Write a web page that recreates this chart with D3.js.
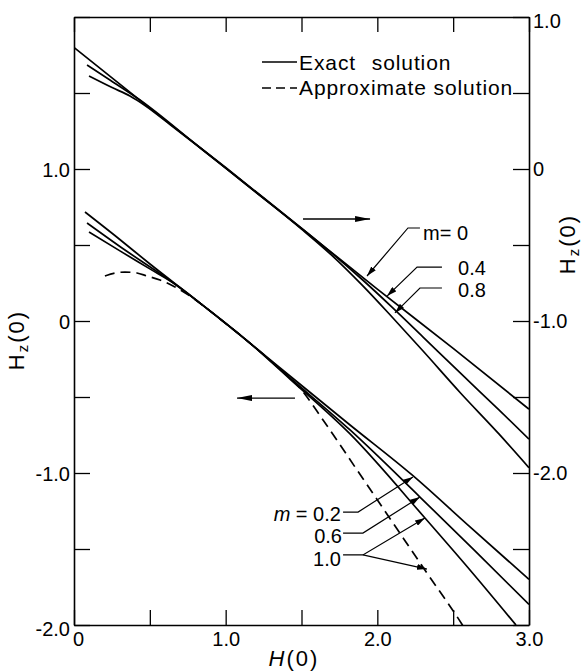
<!DOCTYPE html>
<html>
<head>
<meta charset="utf-8">
<script src="https://cdn.jsdelivr.net/npm/d3@7"></script>
<style>
body { margin: 0; background: #fff; }
svg text { font-family: "Liberation Sans", Arial, sans-serif; fill: #000; }
</style>
</head>
<body>
<svg id="chart" width="584" height="671"></svg>
<script>
// upper family (right axis), H(0) vs Hz(0)
const upperM0  = [[0,0.80],[0.5,0.40],[1.0,0.01],[1.5,-0.39],[2.0,-0.79],[2.5,-1.18],[3.0,-1.58]];
const upperM04 = [[0.086,0.684],[0.237,0.586],[0.435,0.454],[0.831,0.140],[1.0,0.006],[1.2,-0.153],[1.5,-0.391],[1.7,-0.554],[1.9,-0.727],[2.1,-0.912],[2.3,-1.104],[2.55,-1.345],[2.8,-1.583],[3.0,-1.777]];
const upperM08 = [[0.099,0.612],[0.251,0.536],[0.369,0.480],[0.468,0.418],[0.633,0.293],[0.831,0.140],[1.0,0.006],[1.2,-0.153],[1.5,-0.395],[1.7,-0.568],[1.9,-0.764],[2.1,-0.977],[2.3,-1.196],[2.55,-1.475],[2.8,-1.741],[3.0,-1.965]];

// lower family (left axis)
const lowerM02 = [[0.0725,0.717],[0.30,0.538],[0.501,0.375],[0.831,0.118],[1.160,-0.145],[1.424,-0.362],[1.820,-0.684],[2.229,-1.013],[2.611,-1.355],[3.0,-1.70]];
const lowerM06 = [[0.086,0.645],[0.336,0.467],[0.600,0.289],[0.831,0.118],[1.160,-0.145],[1.424,-0.375],[1.820,-0.717],[2.281,-1.158],[2.644,-1.513],[3.0,-1.865]];
const lowerM10 = [[0.099,0.586],[0.30,0.463],[0.50,0.343],[0.666,0.243],[0.831,0.118],[1.160,-0.145],[1.424,-0.382],[1.820,-0.743],[2.314,-1.296],[2.611,-1.638],[2.914,-2.0]];
const approx   = [[0.204,0.296],[0.270,0.316],[0.336,0.322],[0.415,0.316],[0.481,0.296],[0.567,0.270],[0.666,0.224],[0.765,0.164],[0.963,0.013],[1.160,-0.145],[1.358,-0.316],[1.490,-0.441],[1.642,-0.651],[1.866,-0.980],[2.083,-1.299],[2.327,-1.658],[2.558,-1.995],[2.58,-2.03]];

// ticks
const xTicks = [0,0.5,1,1.5,2,2.5,3];
const xLabelValues = [0,1,2,3];
const xLabels = ["0","1.0","2.0","3.0"];
const yLeftTicks = [-2,-1.5,-1,-0.5,0,0.5,1,1.5,2];
const yLeftLabelValues = [-2,-1,0,1];
const yLeftLabels = ["-2.0","-1.0","0","1.0"];
const yRightTicks = [-3,-2.5,-2,-1.5,-1,-0.5,0,0.5,1];
const yRightLabelValues = [-2,-1,0,1];
const yRightLabels = ["-2.0","-1.0","0","1.0"];

// annotation anchors, in (H, left-axis) units
const upperLabels = [{t:"m= 0", p:[2.301,0.533], lead:[[2.281,0.612],[2.202,0.612],[1.932,0.296]]},
                     {t:"0.4",  p:[2.532,0.303], lead:[[2.426,0.355],[2.262,0.355],[2.064,0.164]]},
                     {t:"0.8",  p:[2.532,0.158], lead:[[2.426,0.217],[2.281,0.217],[2.116,0.053]]}];
const lowerLabels = [{m:true, t:" = 0.2", p:[1.760,-1.316], lead:[[1.774,-1.257],[1.873,-1.257],[2.235,-1.026]]},
                     {t:"0.6", p:[1.767,-1.461], lead:[[1.774,-1.395],[1.905,-1.395],[2.281,-1.158]]},
                     {t:"1.0", p:[1.760,-1.612], lead:[[1.774,-1.539],[1.905,-1.539],[2.314,-1.296]]}];
const extraLead = [[1.905,-1.539],[2.327,-1.632]];
const arrowRight = [[1.510,0.671],[1.952,0.671]];
const arrowLeft = [[1.457,-0.507],[1.075,-0.507]];

const svg = d3.select("#chart");
const plotLeft = 74, plotTop = 17, plotRight = 529, plotBottom = 625;

const x = d3.scaleLinear().domain([0, 3]).range([plotLeft, plotRight]);
const yL = d3.scaleLinear().domain([-2, 2]).range([plotBottom, plotTop]);
const yR = d3.scaleLinear().domain([-3, 1]).range([plotBottom, plotTop]);

function fmt(values, labels) {
    return function(d) {
        var i = values.indexOf(d);
        return i < 0 ? "" : labels[i];
    };
}

const defs = svg.append("defs");
defs.append("clipPath").attr("id", "plot")
    .append("rect").attr("x", plotLeft).attr("y", plotTop)
    .attr("width", plotRight - plotLeft).attr("height", plotBottom - plotTop);
defs.append("marker").attr("id", "head")
    .attr("viewBox", "0 0 10 6").attr("refX", 10).attr("refY", 3)
    .attr("markerWidth", 10).attr("markerHeight", 6)
    .attr("markerUnits", "userSpaceOnUse").attr("orient", "auto")
    .append("path").attr("d", "M0,0L10,3L0,6Z");
defs.append("marker").attr("id", "longhead")
    .attr("viewBox", "0 0 15 6").attr("refX", 15).attr("refY", 3)
    .attr("markerWidth", 15).attr("markerHeight", 6)
    .attr("markerUnits", "userSpaceOnUse").attr("orient", "auto")
    .append("path").attr("d", "M0,0L15,3L0,6Z");

// axes
function styleAxis(g) {
    g.attr("font-size", 20).attr("font-family", "Liberation Sans, Arial, sans-serif");
    g.selectAll("line").attr("stroke", "#000").attr("stroke-width", 1.3);
    g.select(".domain").attr("stroke", "#000").attr("stroke-width", 1.6);
}
svg.append("g").attr("transform", `translate(0,${plotBottom})`)
    .call(d3.axisBottom(x).tickValues(xTicks).tickSizeInner(-15).tickSizeOuter(0).tickPadding(7)
        .tickFormat(fmt(xLabelValues, xLabels)))
    .call(styleAxis)
    .selectAll(".tick text").attr("dx", d => d === 0 ? 4 : 0);
svg.append("g").attr("transform", `translate(0,${plotTop})`)
    .call(d3.axisTop(x).tickValues(xTicks).tickSizeInner(-15).tickSizeOuter(0).tickFormat(""))
    .call(styleAxis);
svg.append("g").attr("transform", `translate(${plotLeft},0)`)
    .call(d3.axisLeft(yL).tickValues(yLeftTicks).tickSizeInner(-16).tickSizeOuter(0).tickPadding(4)
        .tickFormat(fmt(yLeftLabelValues, yLeftLabels)))
    .call(styleAxis)
    .selectAll(".tick text").attr("dy", d => d === -2 ? "0.5em" : "0.38em");
svg.append("g").attr("transform", `translate(${plotRight},0)`)
    .call(d3.axisRight(yR).tickValues(yRightTicks).tickSizeInner(-16).tickSizeOuter(0).tickPadding(4)
        .tickFormat(fmt(yRightLabelValues, yRightLabels)))
    .call(styleAxis)
    .selectAll(".tick text").attr("dy", d => d === 1 ? "0.5em" : "0.32em");

// curves
const plot = svg.append("g").attr("clip-path", "url(#plot)");
const lineR = d3.line().x(d => x(d[0])).y(d => yR(d[1])).curve(d3.curveMonotoneX);
const lineL = d3.line().x(d => x(d[0])).y(d => yL(d[1])).curve(d3.curveMonotoneX);

[upperM0, upperM04, upperM08].forEach(function(s) {
    plot.append("path").attr("d", lineR(s)).attr("fill", "none").attr("stroke", "#000").attr("stroke-width", 1.7);
});
[lowerM02, lowerM06, lowerM10].forEach(function(s) {
    plot.append("path").attr("d", lineL(s)).attr("fill", "none").attr("stroke", "#000").attr("stroke-width", 1.7);
});
plot.append("path").attr("d", lineL(approx)).attr("fill", "none").attr("stroke", "#000")
    .attr("stroke-width", 1.7).attr("stroke-dasharray", "10,6");

// annotations
const straight = d3.line().x(d => x(d[0])).y(d => yL(d[1]));
svg.append("path").attr("d", straight(arrowRight)).attr("stroke", "#000").attr("stroke-width", 1.3)
    .attr("fill", "none").attr("marker-end", "url(#longhead)");
svg.append("path").attr("d", straight(arrowLeft)).attr("stroke", "#000").attr("stroke-width", 1.3)
    .attr("fill", "none").attr("marker-end", "url(#longhead)");

upperLabels.concat(lowerLabels).forEach(function(l) {
    svg.append("path").attr("d", straight(l.lead)).attr("stroke", "#000").attr("stroke-width", 1.2)
        .attr("fill", "none").attr("marker-end", "url(#head)");
});
svg.append("path").attr("d", straight(extraLead)).attr("stroke", "#000").attr("stroke-width", 1.2)
    .attr("fill", "none").attr("marker-end", "url(#head)");

upperLabels.forEach(function(l) {
    svg.append("text").attr("x", x(l.p[0])).attr("y", yL(l.p[1]))
        .attr("font-size", 20).text(l.t);
});
lowerLabels.forEach(function(l) {
    var t = svg.append("text").attr("x", x(l.p[0])).attr("y", yL(l.p[1]))
        .attr("font-size", 20).attr("text-anchor", "end");
    if (l.m) t.append("tspan").attr("font-style", "italic").text("m");
    t.append("tspan").text(l.t);
});

// legend
const legend = svg.append("g").attr("font-size", 21);
legend.append("line").attr("x1", 262).attr("x2", 297).attr("y1", 62).attr("y2", 62)
    .attr("stroke", "#000").attr("stroke-width", 1.7);
legend.append("text").attr("x", 299).attr("y", 70).attr("letter-spacing", 0.9)
    .attr("word-spacing", 9).text("Exact solution");
legend.append("line").attr("x1", 262).attr("x2", 297).attr("y1", 88).attr("y2", 88)
    .attr("stroke", "#000").attr("stroke-width", 1.7).attr("stroke-dasharray", "9,5");
legend.append("text").attr("x", 299).attr("y", 95).attr("letter-spacing", 0.9)
    .text("Approximate solution");

// axis titles
const xt = svg.append("text").attr("x", 294).attr("y", 666).attr("text-anchor", "middle")
    .attr("font-size", 22).attr("letter-spacing", 2);
xt.append("tspan").attr("font-style", "italic").text("H");
xt.append("tspan").text("(0)");

function hzTitle(tx, ty) {
    var t = svg.append("text").attr("transform", `translate(${tx},${ty}) rotate(-90)`)
        .attr("text-anchor", "middle").attr("font-size", 22).attr("letter-spacing", 2);
    t.append("tspan").text("H");
    t.append("tspan").attr("font-size", 15).attr("dy", 4).text("z");
    t.append("tspan").attr("dy", -4).text("(0)");
}
hzTitle(24, 340);
hzTitle(575, 244);
</script>
</body>
</html>
